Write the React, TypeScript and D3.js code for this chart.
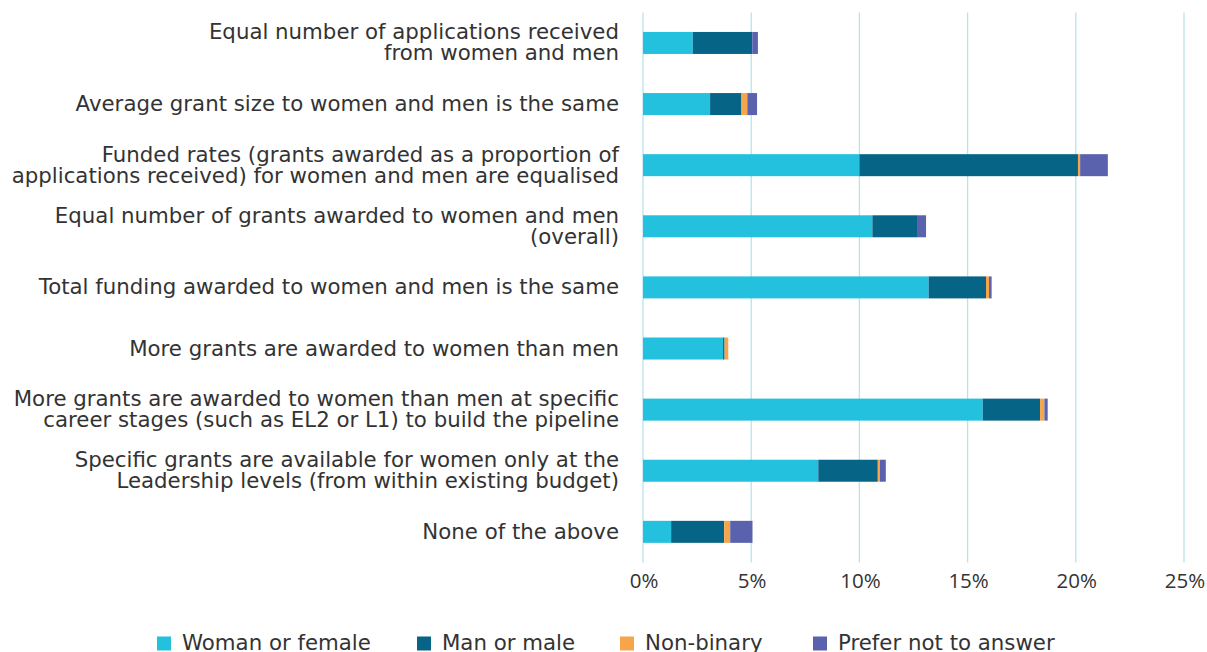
import React from 'react'
import * as d3 from 'd3'

// survey options, top to bottom (each entry = wrapped label lines)
const categories: string[][] = [
  ['Equal number of applications received', 'from women and men'],
  ['Average grant size to women and men is the same'],
  ['Funded rates (grants awarded as a proportion of', 'applications received) for women and men are equalised'],
  ['Equal number of grants awarded to women and men', '(overall)'],
  ['Total funding awarded to women and men is the same'],
  ['More grants are awarded to women than men'],
  ['More grants are awarded to women than men at specific', 'career stages (such as EL2 or L1) to build the pipeline'],
  ['Specific grants are available for women only at the', 'Leadership levels (from within existing budget)'],
  ['None of the above'],
]

const seriesNames = ['Woman or female', 'Man or male', 'Non-binary', 'Prefer not to answer']

// percent of respondents
const woman = [2.3, 3.1, 10.0, 10.6, 13.2, 3.7, 15.7, 8.1, 1.3]
const man = [2.75, 1.45, 10.1, 2.1, 2.65, 0.07, 2.65, 2.75, 2.45]
const nonBinary = [0, 0.27, 0.1, 0, 0.14, 0.17, 0.2, 0.1, 0.28]
const preferNot = [0.26, 0.45, 1.28, 0.38, 0.12, 0, 0.15, 0.27, 1.03]

const xTicks = [0, 5, 10, 15, 20, 25]

const colors = ['#23c1de', '#066487', '#f7a54a', '#5a62ae']

const W = 1207
const H = 652
const FONT = "'DejaVu Sans', sans-serif"

export default function App() {
  const keys = ['w', 'm', 'n', 'p']
  const rows = categories.map((c, i) => ({
    id: String(i),
    w: woman[i],
    m: man[i],
    n: nonBinary[i],
    p: preferNot[i],
  }))
  const stacked = d3.stack<any>().keys(keys)(rows)

  const x = d3.scaleLinear().domain([0, 25]).range([643, 1184])
  const y = d3
    .scaleBand()
    .domain(rows.map(r => r.id))
    .range([12.4, 562.4])
    .paddingInner(0.64)
    .paddingOuter(0.32)

  const lineGap = 21
  const legendX = [157, 417, 620, 813]

  return (
    <svg
      width={W}
      height={H}
      style={{ position: 'absolute', left: 0, top: 0, display: 'block' }}
      fontFamily={FONT}
    >
      <rect width={W} height={H} fill="#fff" />

      {/* gridlines */}
      {xTicks.map(t => (
        <line
          key={t}
          x1={x(t)}
          x2={x(t)}
          y1={12.4}
          y2={562.4}
          stroke="#b8e2ec"
          strokeWidth={1.3}
        />
      ))}

      {/* bars */}
      {stacked.map((s, si) => (
        <g key={s.key} fill={colors[si]}>
          {s.map((d, i) =>
            d[1] - d[0] > 0 ? (
              <rect
                key={i}
                x={x(d[0])}
                y={y(rows[i].id)}
                width={x(d[1]) - x(d[0])}
                height={y.bandwidth()}
              />
            ) : null
          )}
        </g>
      ))}

      {/* category labels */}
      {categories.map((lines, i) => {
        const cy = (y(String(i)) as number) + y.bandwidth() / 2
        const top = cy - ((lines.length - 1) * lineGap) / 2
        return (
          <text key={i} textAnchor="end" fontSize={21.3} fill="#333">
            {lines.map((ln, li) => (
              <tspan key={li} x={619} y={top + li * lineGap} dy="0.33em">
                {ln}
              </tspan>
            ))}
          </text>
        )
      })}

      {/* x tick labels */}
      {xTicks.map(t => (
        <text
          key={t}
          x={x(t) + 1}
          y={588}
          textAnchor="middle"
          fontSize={20.5}
          fontFamily="'Open Sans', sans-serif"
          fill="#333"
        >
          {d3.format('d')(t)}%
        </text>
      ))}

      {/* legend */}
      {seriesNames.map((name, i) => (
        <g key={name} transform={`translate(${legendX[i]},0)`}>
          <rect x={0} y={636.5} width={14} height={14} fill={colors[i]} />
          <text x={25} y={650} fontSize={21.3} fill="#333">
            {name}
          </text>
        </g>
      ))}
    </svg>
  )
}
